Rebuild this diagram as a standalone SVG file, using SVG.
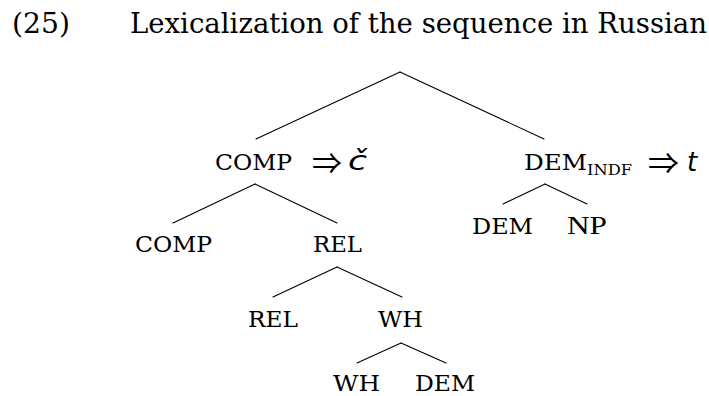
<svg xmlns="http://www.w3.org/2000/svg" width="709" height="396" viewBox="0 0 709 396">
<style>
  .bg { fill: #ffffff; }
  .lbl { font-family: "DejaVu Serif", "Liberation Serif", serif; font-size: 22px; fill: #000; }
  .title { font-family: "DejaVu Serif", "Liberation Serif", serif; font-size: 27px; fill: #000; }
  .sub { font-family: "DejaVu Serif", "Liberation Serif", serif; font-size: 15px; fill: #000; }
  .arr { font-family: "Noto Sans CJK JP", "DejaVu Sans", sans-serif; font-size: 30px; fill: #000; }
  .it { font-family: "DejaVu Sans", sans-serif; font-style: italic; font-size: 26px; fill: #000; }
  .np { font-family: "Liberation Serif", serif; font-size: 26px; fill: #000; }
  .edge { stroke: #000; stroke-width: 1.1; fill: none; stroke-linecap: round; }
</style>
<rect class="bg" x="0" y="0" width="709" height="396"/>
<g id="title">
  <text class="title" x="12" y="33" textLength="58" lengthAdjust="spacingAndGlyphs">(25)</text>
  <text class="title" x="130" y="33" textLength="577" lengthAdjust="spacingAndGlyphs">Lexicalization of the sequence in Russian</text>
</g>
<g id="connectors">
  <line class="edge" x1="400" y1="72" x2="256" y2="139"/>
  <line class="edge" x1="400" y1="72" x2="544" y2="139"/>
  <line class="edge" x1="255" y1="184" x2="173" y2="223"/>
  <line class="edge" x1="255" y1="184" x2="337" y2="223"/>
  <line class="edge" x1="545" y1="184" x2="503" y2="204"/>
  <line class="edge" x1="545" y1="184" x2="587" y2="204"/>
  <line class="edge" x1="337" y1="267" x2="273" y2="297"/>
  <line class="edge" x1="337" y1="267" x2="402" y2="297"/>
  <line class="edge" x1="401" y1="343" x2="357" y2="363"/>
  <line class="edge" x1="401" y1="343" x2="446" y2="363"/>
</g>
<g id="node-comp-top">
  <text class="lbl" x="215" y="170" textLength="77" lengthAdjust="spacingAndGlyphs">COMP</text>
  <text class="arr" x="312" y="174" textLength="30" lengthAdjust="spacingAndGlyphs">⇒</text>
  <text class="it" x="348" y="170" textLength="19" lengthAdjust="spacingAndGlyphs">č</text>
</g>
<g id="node-dem-indf">
  <text class="lbl" x="524" y="170" textLength="63" lengthAdjust="spacingAndGlyphs">DEM</text>
  <text class="sub" x="587" y="175" textLength="45" lengthAdjust="spacingAndGlyphs">INDF</text>
  <text class="arr" x="648" y="174" textLength="31" lengthAdjust="spacingAndGlyphs">⇒</text>
  <text class="it" x="687" y="171">t</text>
</g>
<g id="node-comp">
  <text class="lbl" x="135" y="252" textLength="77" lengthAdjust="spacingAndGlyphs">COMP</text>
</g>
<g id="node-rel-top">
  <text class="lbl" x="313" y="252" textLength="49" lengthAdjust="spacingAndGlyphs">REL</text>
</g>
<g id="node-dem">
  <text class="lbl" x="472" y="234" textLength="61" lengthAdjust="spacingAndGlyphs">DEM</text>
</g>
<g id="node-np">
  <text class="np" x="567" y="234" textLength="40" lengthAdjust="spacingAndGlyphs">NP</text>
</g>
<g id="node-rel">
  <text class="lbl" x="248" y="327" textLength="50" lengthAdjust="spacingAndGlyphs">REL</text>
</g>
<g id="node-wh-top">
  <text class="lbl" x="378" y="327" textLength="45" lengthAdjust="spacingAndGlyphs">WH</text>
</g>
<g id="node-wh">
  <text class="lbl" x="333" y="391" textLength="47" lengthAdjust="spacingAndGlyphs">WH</text>
</g>
<g id="node-dem-low">
  <text class="lbl" x="415" y="391" textLength="60" lengthAdjust="spacingAndGlyphs">DEM</text>
</g>
</svg>
